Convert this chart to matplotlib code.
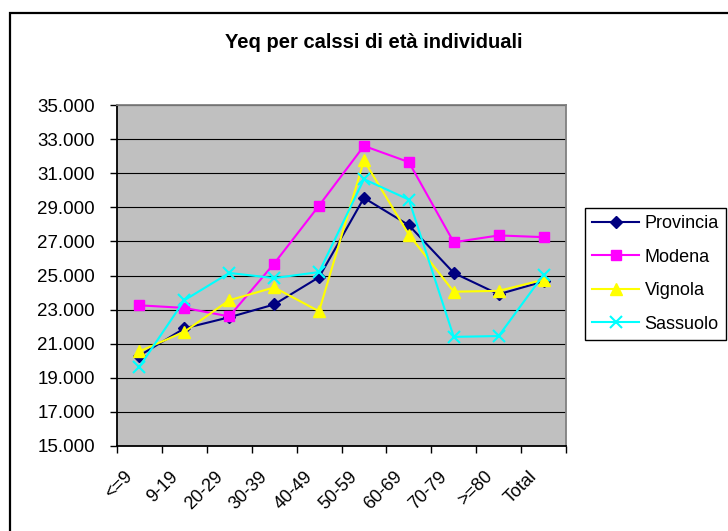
import matplotlib
matplotlib.use("Agg")
import matplotlib.pyplot as plt
from matplotlib.patches import Rectangle
from matplotlib.ticker import FuncFormatter, FixedLocator
from matplotlib.transforms import ScaledTranslation

categories = ["<=9", "9-19", "20-29", "30-39", "40-49", "50-59", "60-69", "70-79", ">=80", "Total"]
provincia = [20300, 21900, 22550, 23300, 24900, 29550, 27950, 25150, 23900, 24650]
modena = [23250, 23100, 22600, 25700, 29100, 32600, 31650, 26950, 27350, 27250]
vignola = [20550, 21700, 23550, 24300, 22900, 31750, 27400, 24050, 24100, 24750]
sassuolo = [19650, 23550, 25150, 24850, 25200, 30650, 29450, 21400, 21450, 25050]
y_ticks = list(range(15000, 35001, 2000))

plt.rcParams["font.family"] = ["Liberation Sans", "DejaVu Sans"]

fig = plt.figure(figsize=(7.28, 5.31), dpi=100)
ax = fig.add_axes([117 / 728, 1 - 446 / 531, 449 / 728, 341 / 531])
ax.set_facecolor("#c0c0c0")

x = list(range(len(categories)))
series = [
    ("Provincia", provincia, "#000080", "D", 6.5, 1.0),
    ("Modena", modena, "#ff00ff", "s", 7.0, 1.0),
    ("Vignola", vignola, "#ffff00", "^", 8.5, 1.0),
    ("Sassuolo", sassuolo, "#00ffff", "x", 8.0, 1.5),
]
for name, vals, col, mk, ms, mew in series:
    ax.plot(x, vals, color=col, marker=mk, markersize=ms, markeredgewidth=mew,
            markerfacecolor=col, markeredgecolor=col, linewidth=1.5, label=name,
            clip_on=False, zorder=3)

ax.set_xlim(-0.5, len(categories) - 0.5)
ax.set_ylim(15000, 35000)
ax.set_yticks(y_ticks)
ax.yaxis.set_major_formatter(FuncFormatter(lambda v, p: f"{v:,.0f}".replace(",", ".")))
ax.grid(axis="y", color="black", linewidth=0.8, zorder=1)
ax.set_axisbelow(True)

ax.set_xticks(x)
ax.xaxis.set_minor_locator(FixedLocator([i - 0.5 for i in range(len(categories) + 1)]))
ax.tick_params(axis="x", which="major", length=0, pad=16, labelsize=13)
ax.tick_params(axis="x", which="minor", length=5, width=1, direction="out", color="black")
ax.tick_params(axis="y", length=5, width=1, direction="out", labelsize=13.5, pad=11)
ax.set_xticklabels(categories, rotation=45, ha="right", va="top")
# nudge the slanted labels left, like the original
shift = ScaledTranslation(-3 / 100, 0, fig.dpi_scale_trans)
for lbl in ax.get_xticklabels():
    lbl.set_transform(lbl.get_transform() + shift)

for side in ("left", "bottom"):
    ax.spines[side].set_color("black")
    ax.spines[side].set_linewidth(1.3)
for side in ("top", "right"):
    ax.spines[side].set_color("#808080")
    ax.spines[side].set_linewidth(1.3)

fig.text(374 / 728, 1 - 43 / 531, "Yeq per calssi di età individuali",
         ha="center", va="center", fontsize=14.5, fontweight="bold")

leg = ax.legend(loc="upper left", bbox_to_anchor=(585 / 728, 1 - 208 / 531),
                bbox_transform=fig.transFigure, borderaxespad=0, fancybox=False,
                edgecolor="black", framealpha=1, fontsize=13, handlelength=2.6,
                handletextpad=0.3, labelspacing=0.91, borderpad=0.4)
leg.get_frame().set_linewidth(1.0)

# outer chart frame (right and bottom edges lie outside the image)
fig.patches.append(Rectangle((10 / 728, -0.1), 1.0, 1.1 - 12.7 / 531, transform=fig.transFigure,
                             fill=False, edgecolor="black", linewidth=1.6))

fig.savefig("out.png", dpi=100)
